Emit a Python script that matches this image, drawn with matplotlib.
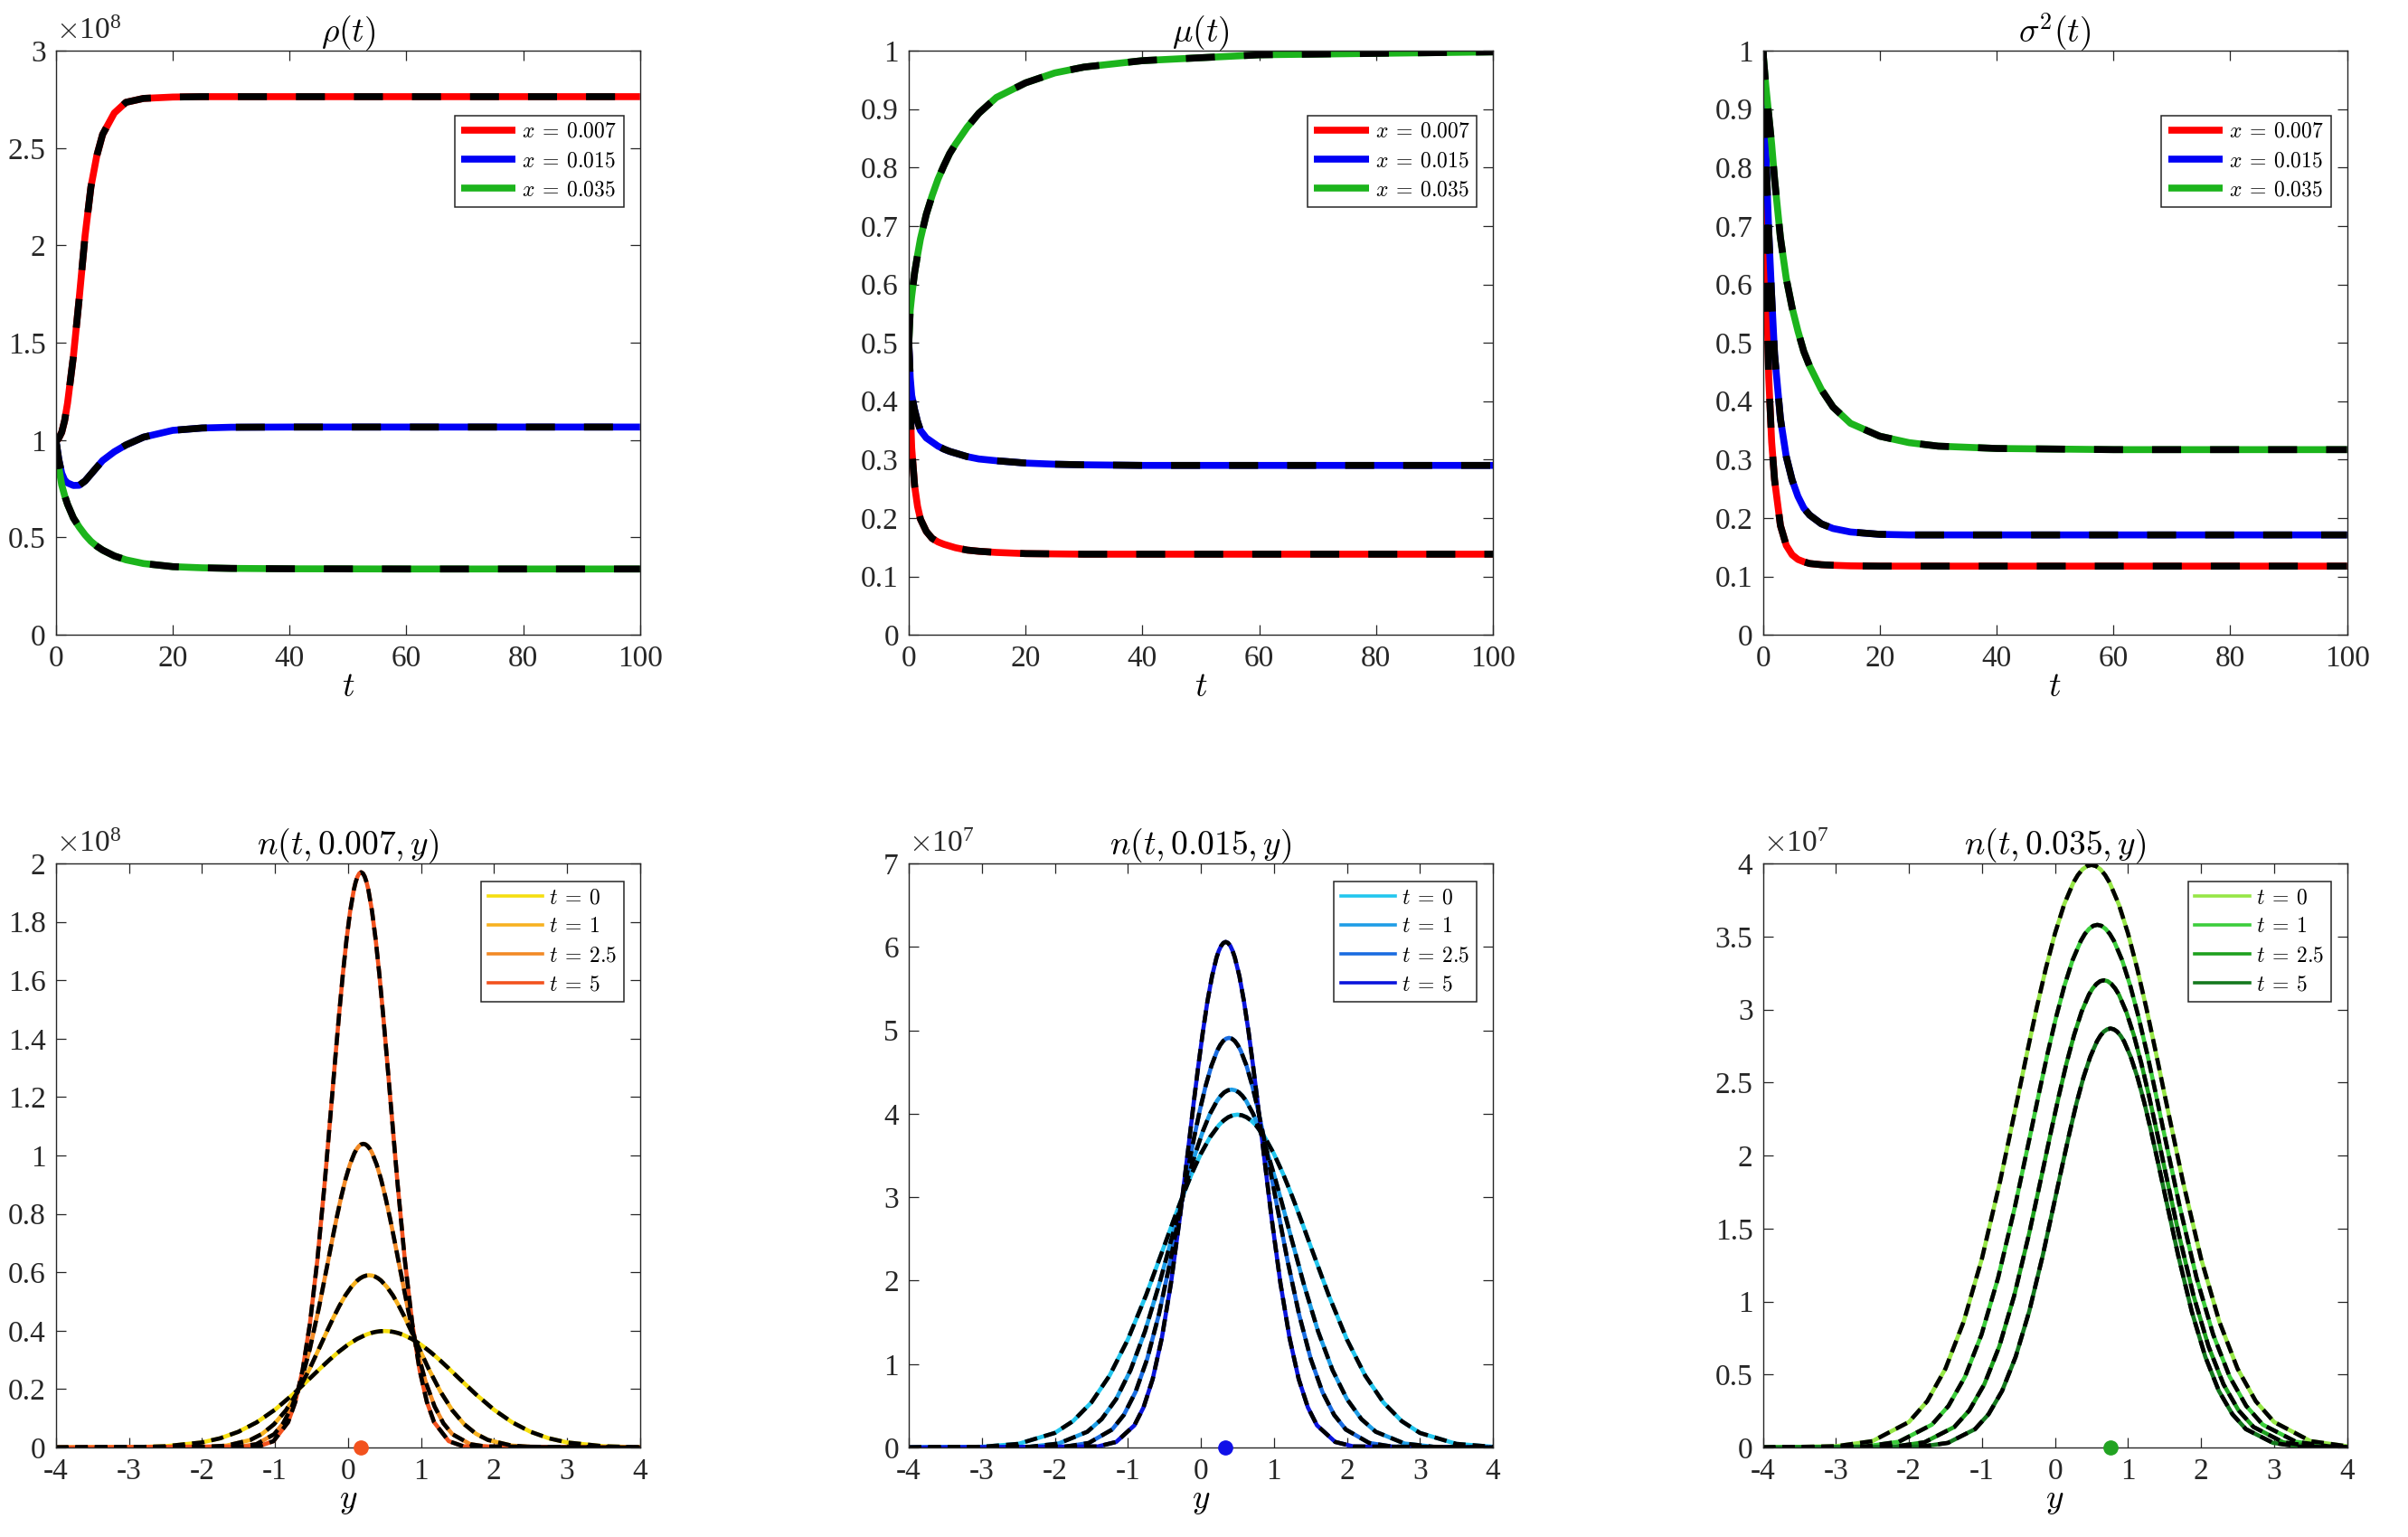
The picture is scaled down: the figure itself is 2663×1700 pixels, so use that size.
import matplotlib
matplotlib.use('Agg')
import matplotlib.pyplot as plt
from matplotlib.ticker import FuncFormatter, MultipleLocator

plt.rcParams['font.family'] = ['Liberation Serif', 'DejaVu Serif']
plt.rcParams['mathtext.fontset'] = 'cm'

# ---- top row: rho(t), mu(t), sigma^2(t) for three x values ----
t = [0, 0.25, 0.5, 1, 1.5, 2, 3, 4, 5, 6, 7, 8, 10, 12, 15, 20, 25, 30, 40, 60, 100]
x_labels = [r'$x\:=\:0.007$', r'$x\:=\:0.015$', r'$x\:=\:0.035$']

# rho in units of 1e8
rho_007 = [1.0, 1.0, 1.01, 1.04, 1.10, 1.19, 1.43, 1.73, 2.05, 2.30, 2.46, 2.57, 2.68, 2.735, 2.755, 2.762, 2.764, 2.764, 2.764, 2.764, 2.764]
rho_015 = [1.0, 0.95, 0.90, 0.83, 0.795, 0.78, 0.767, 0.768, 0.79, 0.825, 0.86, 0.895, 0.94, 0.975, 1.015, 1.05, 1.062, 1.066, 1.067, 1.067, 1.067]
rho_035 = [1.0, 0.93, 0.86, 0.77, 0.715, 0.67, 0.60, 0.553, 0.513, 0.48, 0.455, 0.435, 0.405, 0.385, 0.366, 0.350, 0.344, 0.341, 0.339, 0.338, 0.338]

mu_007 = [0.5, 0.39, 0.32, 0.255, 0.22, 0.198, 0.177, 0.165, 0.159, 0.155, 0.152, 0.149, 0.145, 0.143, 0.141, 0.139, 0.1385, 0.138, 0.138, 0.138, 0.138]
mu_015 = [0.5, 0.44, 0.41, 0.385, 0.365, 0.35, 0.337, 0.330, 0.323, 0.318, 0.314, 0.311, 0.305, 0.301, 0.298, 0.294, 0.292, 0.291, 0.290, 0.290, 0.290]
mu_035 = [0.5, 0.556, 0.58, 0.62, 0.65, 0.678, 0.72, 0.752, 0.78, 0.803, 0.824, 0.84, 0.869, 0.893, 0.92, 0.945, 0.962, 0.972, 0.983, 0.993, 0.998]

var_007 = [1.0, 0.80, 0.64, 0.44, 0.33, 0.265, 0.187, 0.153, 0.137, 0.129, 0.125, 0.122, 0.12, 0.119, 0.118, 0.1175, 0.1175, 0.1175, 0.1175, 0.1175, 0.1175]
var_015 = [1.0, 0.91, 0.83, 0.69, 0.58, 0.48, 0.37, 0.305, 0.265, 0.237, 0.217, 0.205, 0.19, 0.182, 0.176, 0.172, 0.171, 0.171, 0.171, 0.171, 0.171]
var_035 = [1.0, 0.97, 0.94, 0.89, 0.84, 0.78, 0.68, 0.61, 0.56, 0.52, 0.485, 0.46, 0.42, 0.39, 0.362, 0.34, 0.329, 0.323, 0.319, 0.317, 0.317]

top_colors = ['#FF0000', '#0000F5', '#1CB41C']

# ---- bottom row: n(t, x, y), values in units of 1e7 ----
t_labels = [r'$t\:=\:0$', r'$t\:=\:1$', r'$t\:=\:2.5$', r'$t\:=\:5$']

y_t0 = [-4.0, -3.0, -2.5, -2.0, -1.75, -1.5, -1.25, -1.0, -0.75, -0.5, -0.375, -0.25, -0.125, 0.0, 0.125, 0.25, 0.3125, 0.375, 0.4375,
        0.5, 0.5625, 0.625, 0.6875, 0.75, 0.875, 1.0, 1.125, 1.25, 1.375, 1.5, 1.75, 2.0, 2.25, 2.5, 2.75, 3.0, 3.5, 4.0]
n_t0 = [0.0, 0.009, 0.044, 0.175, 0.317, 0.540, 0.863, 1.295, 1.827, 2.420, 2.721, 3.012, 3.282, 3.521, 3.719, 3.867, 3.920, 3.959, 3.982,
        3.990, 3.982, 3.959, 3.920, 3.867, 3.719, 3.521, 3.282, 3.012, 2.721, 2.420, 1.827, 1.295, 0.863, 0.540, 0.317, 0.175, 0.044, 0.009]

# x = 0.007
y_007_t1 = [-4.0, -1.989, -1.663, -1.338, -1.175, -1.012, -0.849, -0.687, -0.524, -0.361, -0.280, -0.198, -0.117, -0.036, 0.046, 0.127, 0.168, 0.209, 0.249,
            0.290, 0.331, 0.371, 0.412, 0.453, 0.534, 0.616, 0.697, 0.779, 0.860, 0.941, 1.104, 1.267, 1.429, 1.592, 1.755, 1.918, 2.243, 2.569, 4.0]
n_007_t1 = [0.0, 0.013, 0.066, 0.259, 0.469, 0.799, 1.276, 1.915, 2.701, 3.579, 4.023, 4.454, 4.853, 5.207, 5.499, 5.718, 5.797, 5.854, 5.888,
            5.900, 5.888, 5.854, 5.797, 5.718, 5.499, 5.207, 4.853, 4.454, 4.023, 3.579, 2.701, 1.915, 1.276, 0.799, 0.469, 0.259, 0.066, 0.013, 0.0]
y_007_t25 = [-4.0, -1.498, -1.254, -1.010, -0.888, -0.766, -0.644, -0.522, -0.400, -0.278, -0.217, -0.156, -0.095, -0.034, 0.027, 0.088, 0.119, 0.149, 0.180,
             0.210, 0.241, 0.271, 0.302, 0.332, 0.393, 0.454, 0.515, 0.576, 0.637, 0.698, 0.820, 0.942, 1.064, 1.186, 1.308, 1.430, 1.674, 1.918, 4.0]
n_007_t25 = [0.0, 0.023, 0.116, 0.457, 0.827, 1.408, 2.249, 3.376, 4.761, 6.308, 7.092, 7.850, 8.555, 9.178, 9.694, 10.080, 10.219, 10.319, 10.380,
             10.400, 10.380, 10.319, 10.219, 10.080, 9.694, 9.178, 8.555, 7.850, 7.092, 6.308, 4.761, 3.376, 2.249, 1.408, 0.827, 0.457, 0.116, 0.023, 0.0]
y_007_t5 = [-4.0, -1.22, -1.02, -0.82, -0.72, -0.62, -0.52, -0.42, -0.32, -0.22, -0.17, -0.12, -0.07, -0.02, 0.03, 0.08, 0.105, 0.13, 0.155,
            0.18, 0.205, 0.23, 0.255, 0.28, 0.33, 0.38, 0.43, 0.48, 0.53, 0.58, 0.68, 0.78, 0.88, 0.98, 1.08, 1.18, 1.38, 1.58, 4.0]
n_007_t5 = [0.0, 0.043, 0.219, 0.866, 1.567, 2.666, 4.261, 6.396, 9.019, 11.949, 13.434, 14.870, 16.205, 17.385, 18.362, 19.094, 19.357, 19.547, 19.662,
            19.700, 19.662, 19.547, 19.357, 19.094, 18.362, 17.385, 16.205, 14.870, 13.434, 11.949, 9.019, 6.396, 4.261, 2.666, 1.567, 0.866, 0.219, 0.043, 0.0]

# x = 0.015
y_015_t1 = [-4.0, -2.345, -1.950, -1.555, -1.358, -1.160, -0.963, -0.765, -0.568, -0.370, -0.271, -0.173, -0.074, 0.025, 0.124, 0.223, 0.272, 0.321, 0.371,
            0.420, 0.469, 0.519, 0.568, 0.618, 0.716, 0.815, 0.914, 1.013, 1.111, 1.210, 1.408, 1.605, 1.803, 2.000, 2.198, 2.395, 2.790, 3.185, 4.0]
n_015_t1 = [0.0, 0.009, 0.048, 0.189, 0.341, 0.581, 0.928, 1.393, 1.964, 2.602, 2.926, 3.238, 3.529, 3.786, 3.999, 4.158, 4.215, 4.257, 4.282,
            4.290, 4.282, 4.257, 4.215, 4.158, 3.999, 3.786, 3.529, 3.238, 2.926, 2.602, 1.964, 1.393, 0.928, 0.581, 0.341, 0.189, 0.048, 0.009, 0.0]
y_015_t25 = [-4.0, -1.855, -1.535, -1.215, -1.055, -0.895, -0.735, -0.575, -0.415, -0.255, -0.175, -0.095, -0.015, 0.065, 0.145, 0.225, 0.265, 0.305, 0.345,
             0.385, 0.425, 0.465, 0.505, 0.545, 0.625, 0.705, 0.785, 0.865, 0.945, 1.025, 1.185, 1.345, 1.505, 1.665, 1.825, 1.985, 2.305, 2.625, 4.0]
n_015_t25 = [0.0, 0.011, 0.055, 0.216, 0.391, 0.665, 1.062, 1.594, 2.248, 2.978, 3.348, 3.706, 4.039, 4.333, 4.577, 4.759, 4.824, 4.872, 4.900,
             4.910, 4.900, 4.872, 4.824, 4.759, 4.577, 4.333, 4.039, 3.706, 3.348, 2.978, 2.248, 1.594, 1.062, 0.665, 0.391, 0.216, 0.055, 0.011, 0.0]
y_015_t5 = [-4.0, -1.41, -1.16, -0.91, -0.785, -0.66, -0.535, -0.41, -0.285, -0.16, -0.098, -0.035, 0.028, 0.09, 0.153, 0.215, 0.246, 0.278, 0.309,
            0.34, 0.371, 0.403, 0.434, 0.465, 0.528, 0.59, 0.653, 0.715, 0.778, 0.84, 0.965, 1.09, 1.215, 1.34, 1.465, 1.59, 1.84, 2.09, 4.0]
n_015_t5 = [0.0, 0.013, 0.067, 0.266, 0.482, 0.820, 1.311, 1.967, 2.774, 3.676, 4.133, 4.574, 4.985, 5.348, 5.649, 5.874, 5.954, 6.013, 6.048,
            6.060, 6.048, 6.013, 5.954, 5.874, 5.649, 5.348, 4.985, 4.574, 4.133, 3.676, 2.774, 1.967, 1.311, 0.820, 0.482, 0.266, 0.067, 0.013, 0.0]

# x = 0.035
y_035_t1 = [-4.0, -2.591, -2.138, -1.685, -1.459, -1.232, -1.006, -0.779, -0.553, -0.326, -0.213, -0.100, 0.014, 0.127, 0.240, 0.354, 0.410, 0.467, 0.523,
            0.580, 0.637, 0.693, 0.750, 0.807, 0.920, 1.033, 1.146, 1.260, 1.373, 1.486, 1.713, 1.939, 2.166, 2.392, 2.619, 2.845, 3.298, 3.751, 4.0]
n_035_t1 = [0.0, 0.008, 0.040, 0.157, 0.285, 0.485, 0.774, 1.162, 1.639, 2.171, 2.441, 2.702, 2.945, 3.159, 3.337, 3.470, 3.518, 3.552, 3.573,
            3.580, 3.573, 3.552, 3.518, 3.470, 3.337, 3.159, 2.945, 2.702, 2.441, 2.171, 1.639, 1.162, 0.774, 0.485, 0.285, 0.157, 0.040, 0.008, 0.003]
y_035_t25 = [-4.0, -2.197, -1.787, -1.378, -1.173, -0.968, -0.763, -0.559, -0.354, -0.149, -0.047, 0.056, 0.158, 0.261, 0.363, 0.465, 0.516, 0.568, 0.619,
             0.670, 0.721, 0.772, 0.824, 0.875, 0.977, 1.080, 1.182, 1.284, 1.387, 1.489, 1.694, 1.898, 2.103, 2.308, 2.513, 2.718, 3.127, 3.537, 4.0]
n_035_t25 = [0.0, 0.007, 0.036, 0.141, 0.255, 0.433, 0.692, 1.039, 1.465, 1.941, 2.182, 2.415, 2.632, 2.824, 2.983, 3.102, 3.144, 3.175, 3.194,
             3.200, 3.194, 3.175, 3.144, 3.102, 2.983, 2.824, 2.632, 2.415, 2.182, 1.941, 1.465, 1.039, 0.692, 0.433, 0.255, 0.141, 0.036, 0.007, 0.001]
y_035_t5 = [-4.0, -1.837, -1.466, -1.095, -0.910, -0.724, -0.539, -0.353, -0.168, 0.018, 0.111, 0.204, 0.296, 0.389, 0.482, 0.575, 0.621, 0.667, 0.714,
            0.760, 0.806, 0.853, 0.899, 0.946, 1.038, 1.131, 1.224, 1.316, 1.409, 1.502, 1.688, 1.873, 2.059, 2.244, 2.430, 2.615, 2.986, 3.357, 4.0]
n_035_t5 = [0.0, 0.006, 0.032, 0.126, 0.228, 0.388, 0.621, 0.932, 1.314, 1.741, 1.957, 2.166, 2.361, 2.533, 2.675, 2.782, 2.820, 2.848, 2.864,
            2.870, 2.864, 2.848, 2.820, 2.782, 2.675, 2.533, 2.361, 2.166, 1.957, 1.741, 1.314, 0.932, 0.621, 0.388, 0.228, 0.126, 0.032, 0.006, 0.0]

# long-time mean trait (dot on the y axis)
dot_y = [0.18, 0.33, 0.76]

colors_007 = ['#F5DE10', '#F7B220', '#F28A26', '#F2521E']
colors_015 = ['#22C6EE', '#1E9DE6', '#1A6CE0', '#0A14DC']
colors_035 = ['#96E646', '#3CCD3C', '#1EA01E', '#14781E']
dot_colors = ['#F2521E', '#1010E8', '#22A322']

fig = plt.figure(figsize=(26.63, 17), dpi=100)
fig.patch.set_facecolor('white')

lefts = [0.0232, 0.3774, 0.7321]
w, h = 0.2426, 0.380
ink = '#262626'


def style(ax):
    ax.tick_params(direction='in', length=8, width=0.9, top=True, right=True,
                   labelsize=24, colors=ink, pad=8)
    for s in ax.spines.values():
        s.set_linewidth(1.0)
        s.set_color(ink)
    ax.xaxis.set_major_formatter(FuncFormatter(lambda v, p: '%g' % round(v, 6)))
    ax.yaxis.set_major_formatter(FuncFormatter(lambda v, p: '%g' % round(v, 6)))


def exp_label(ax, e):
    ax.text(0.0, 1.01, r'$\times\mathregular{10^{%d}}$' % e, transform=ax.transAxes,
            ha='left', va='bottom', fontsize=24, color=ink)


def add_legend(ax, handles, top):
    leg = ax.legend(handles=handles, loc='upper right', bbox_to_anchor=(0.972, top),
                    borderaxespad=0, fontsize=17, handlelength=2.55, handletextpad=0.3,
                    labelspacing=0.45, borderpad=0.32, fancybox=False, framealpha=1,
                    edgecolor=ink)
    leg.get_frame().set_linewidth(1.1)
    return leg


# ---- top row ----
top_sets = [
    ([rho_007, rho_015, rho_035], r'$\rho(t)$', 3, 0.5, 8),
    ([mu_007, mu_015, mu_035], r'$\mu(t)$', 1, 0.1, None),
    ([var_007, var_015, var_035], r'$\sigma^2(t)$', 1, 0.1, None),
]
for i, (series, title, ymax, ystep, e) in enumerate(top_sets):
    ax = fig.add_axes([lefts[i], 0.587, w, h])
    handles = []
    for vals, c, lab in zip(series, top_colors, x_labels):
        ln, = ax.plot(t, vals, color=c, lw=5.5, label=lab, solid_capstyle='butt')
        handles.append(ln)
    for vals in series:
        ax.plot(t, vals, color='k', lw=5.5, ls=(0, (4.2, 4.2)), dash_capstyle='butt')
    ax.set_xlim(0, 100)
    ax.set_ylim(0, ymax)
    ax.xaxis.set_major_locator(MultipleLocator(20))
    ax.yaxis.set_major_locator(MultipleLocator(ystep))
    style(ax)
    ax.set_title(title, fontsize=27, pad=7)
    ax.set_xlabel('$t$', fontsize=27, labelpad=0)
    if e:
        exp_label(ax, e)
    add_legend(ax, handles, 0.889)

# ---- bottom row ----
bottom_sets = [
    ([(y_t0, n_t0), (y_007_t1, n_007_t1), (y_007_t25, n_007_t25), (y_007_t5, n_007_t5)],
     colors_007, '$n(t,0.007,y)$', 2, 0.2, 8),
    ([(y_t0, n_t0), (y_015_t1, n_015_t1), (y_015_t25, n_015_t25), (y_015_t5, n_015_t5)],
     colors_015, '$n(t,0.015,y)$', 7, 1, 7),
    ([(y_t0, n_t0), (y_035_t1, n_035_t1), (y_035_t25, n_035_t25), (y_035_t5, n_035_t5)],
     colors_035, '$n(t,0.035,y)$', 4, 0.5, 7),
]
for i, (curves, cols, title, ymax, ystep, e) in enumerate(bottom_sets):
    ax = fig.add_axes([lefts[i], 0.0582, w, h])
    scale = 10.0 ** (7 - e)
    handles = []
    for (yy, nn), c, lab in zip(curves, cols, t_labels):
        ln, = ax.plot(yy, [v * scale for v in nn], color=c, lw=3.3, label=lab)
        handles.append(ln)
    for yy, nn in curves:
        ax.plot(yy, [v * scale for v in nn], color='k', lw=3.3, ls=(0, (3.0, 1.7)),
                dash_capstyle='butt')
    ax.plot([dot_y[i]], [0], 'o', color=dot_colors[i], ms=11, clip_on=False, zorder=5)
    ax.set_xlim(-4, 4)
    ax.set_ylim(0, ymax)
    ax.xaxis.set_major_locator(MultipleLocator(1))
    ax.yaxis.set_major_locator(MultipleLocator(ystep))
    style(ax)
    ax.set_title(title, fontsize=27, pad=7)
    ax.set_xlabel('$y$', fontsize=27, labelpad=0)
    exp_label(ax, e)
    leg = add_legend(ax, handles, 0.969)
    for ln in leg.get_lines():
        ln.set_linewidth(2.6)

fig.savefig('out.png', dpi=100, facecolor='white')
